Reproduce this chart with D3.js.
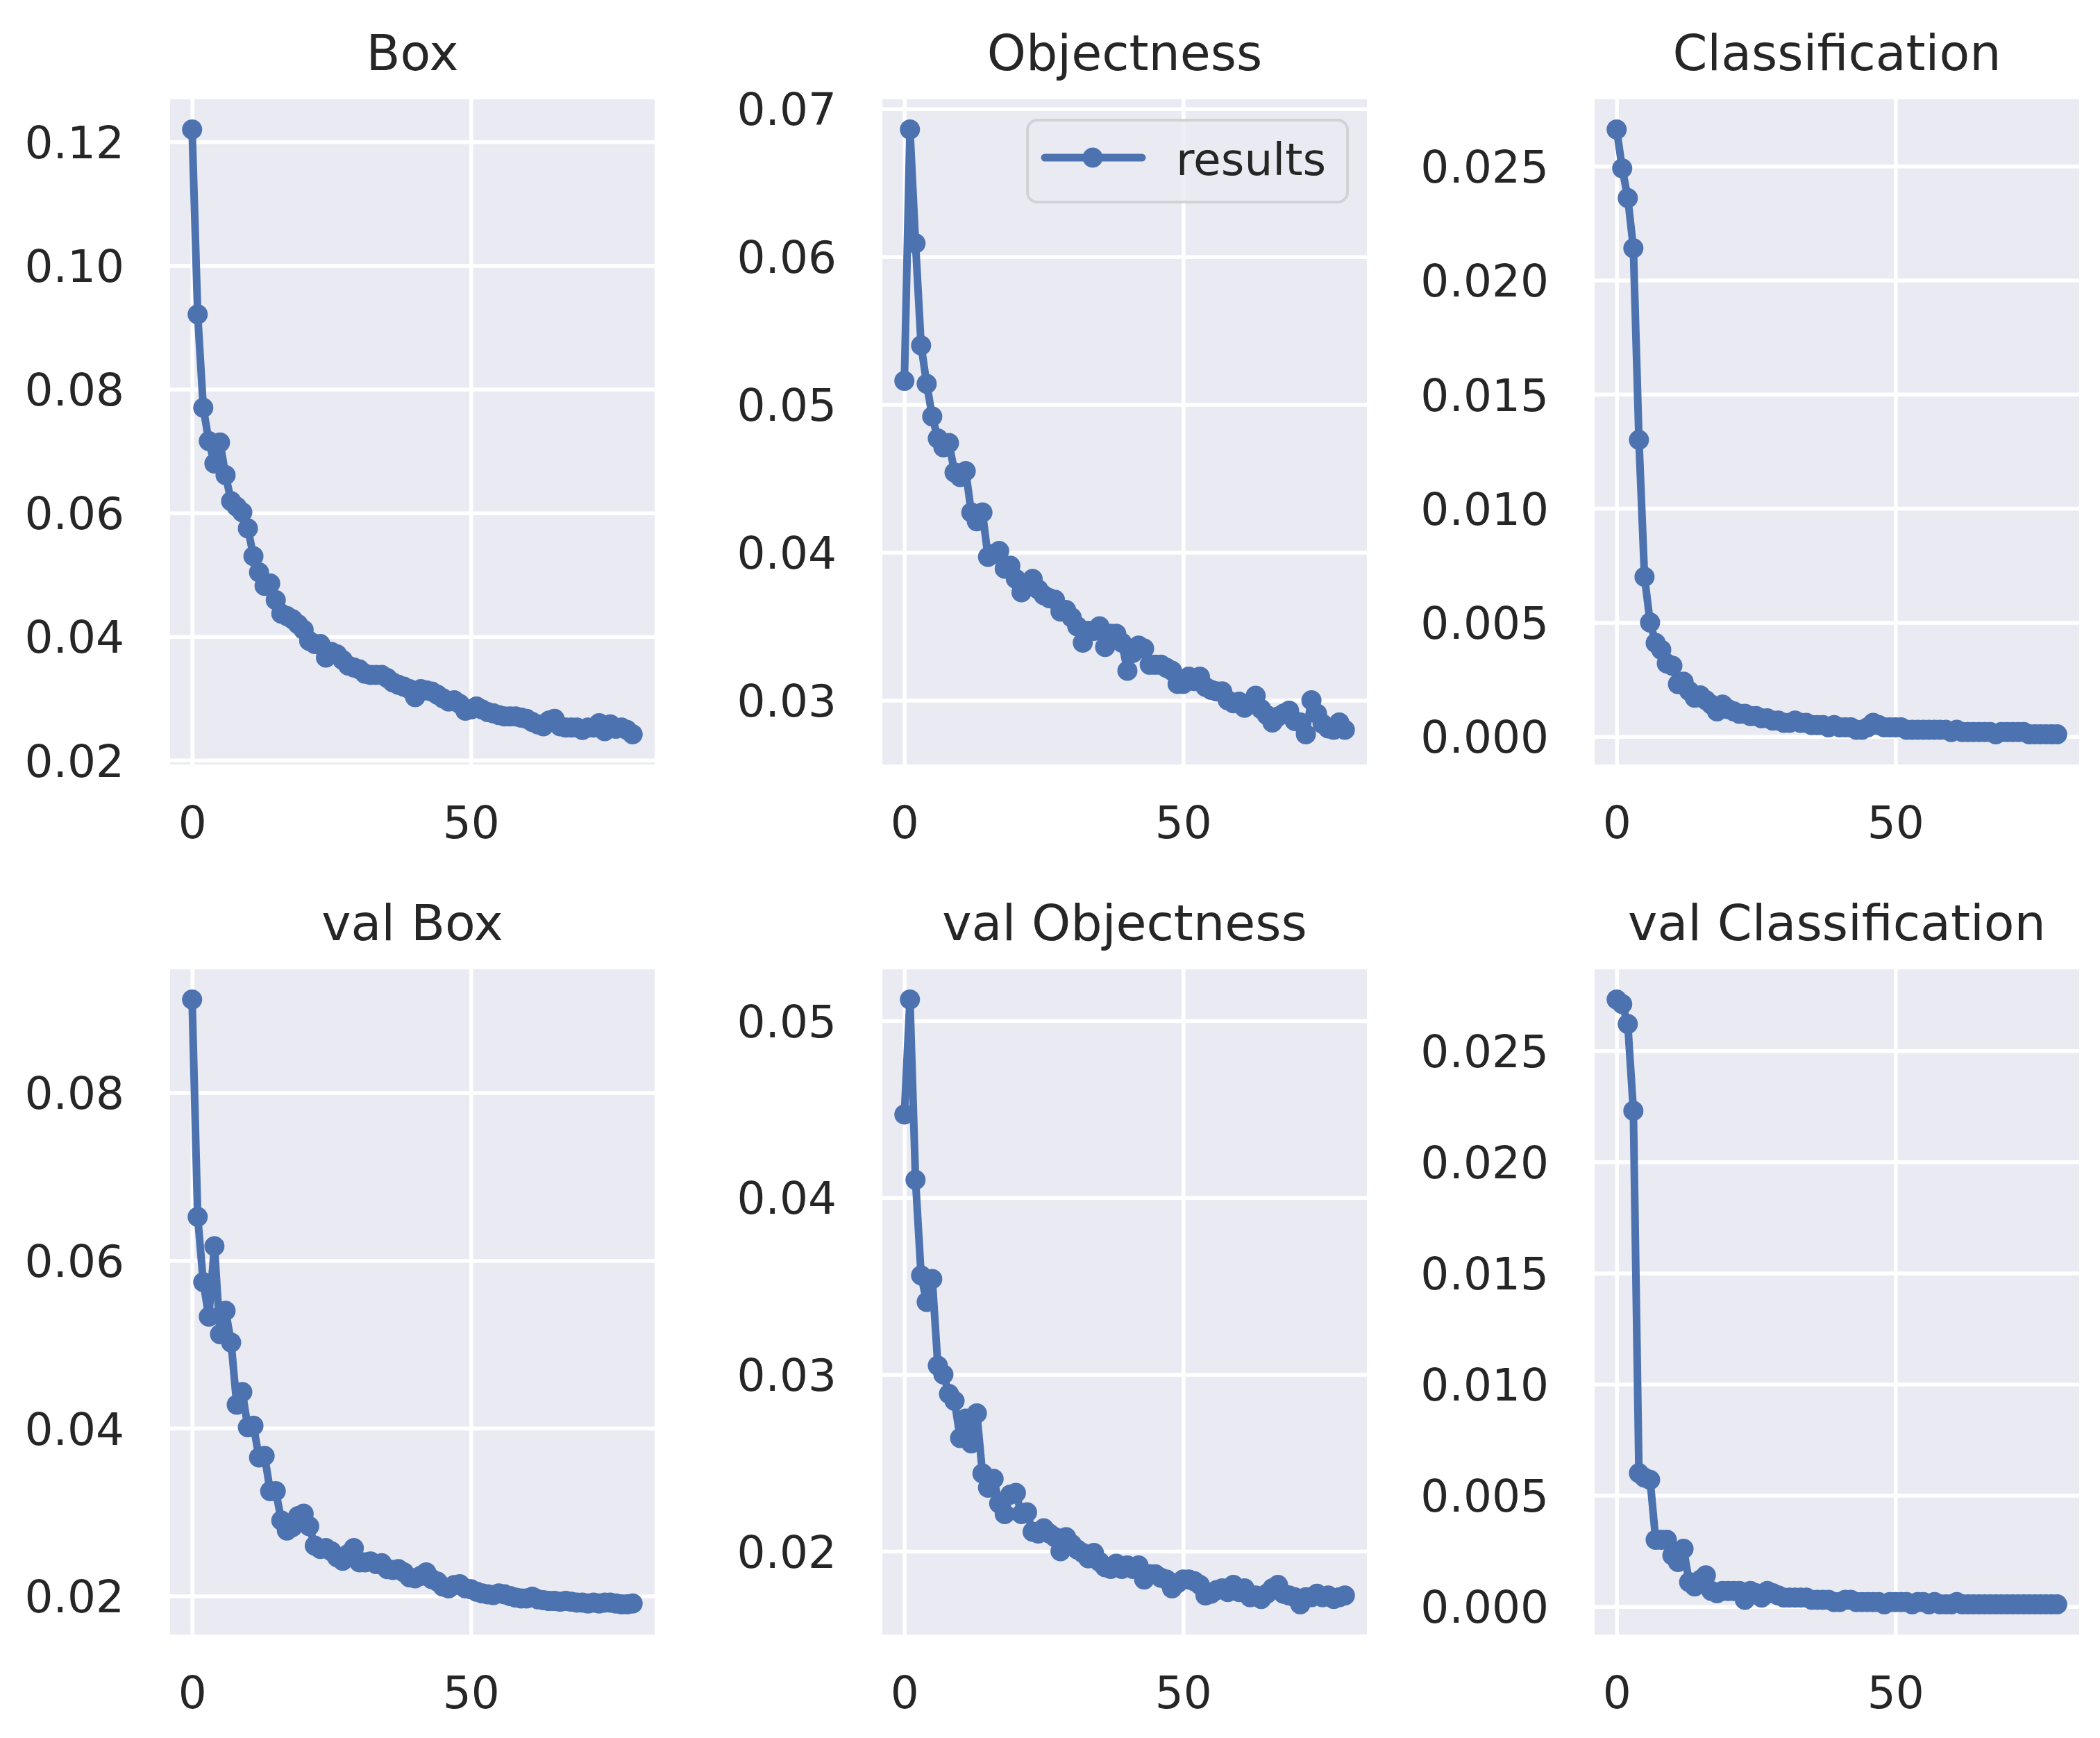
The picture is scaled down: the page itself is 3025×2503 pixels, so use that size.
<!DOCTYPE html>
<html lang="en">
  <head>
    <meta charset="UTF-8" />
    <title>results</title>
    <script src="https://cdn.jsdelivr.net/npm/d3@7/dist/d3.min.js"></script>
    <style>
      body { margin: 0; background: #fff; }
      text { font-family: "DejaVu Sans", sans-serif; fill: #262626; }
    </style>
  </head>
  <body>
    <svg width="3025" height="2503"></svg>
    <script>
      // loss values per epoch
      var boxLoss = [0.1220,0.0921,0.0770,0.0716,0.0680,0.0714,0.0661,0.0619,0.0610,0.0601,
        0.0575,0.0530,0.0504,0.0482,0.0486,0.0459,0.0437,0.0433,0.0428,0.0420,
        0.0411,0.0393,0.0388,0.0388,0.0366,0.0375,0.0371,0.0362,0.0353,0.0350,
        0.0347,0.0340,0.0338,0.0338,0.0338,0.0333,0.0326,0.0322,0.0319,0.0315,
        0.0302,0.0315,0.0313,0.0311,0.0306,0.0300,0.0295,0.0297,0.0291,0.0280,
        0.0282,0.0287,0.0282,0.0278,0.0276,0.0273,0.0271,0.0271,0.0271,0.0269,
        0.0267,0.0262,0.0258,0.0255,0.0264,0.0267,0.0255,0.0253,0.0253,0.0253,
        0.0249,0.0253,0.0253,0.0260,0.0247,0.0258,0.0251,0.0253,0.0249,0.0242];
      var objLoss = [0.0516,0.0686,0.0609,0.0540,0.0514,0.0492,0.0477,0.0471,0.0474,0.0454,
        0.0451,0.0455,0.0427,0.0421,0.0427,0.0397,0.0399,0.0401,0.0389,0.0391,
        0.0382,0.0373,0.0378,0.0382,0.0375,0.0371,0.0369,0.0368,0.0360,0.0361,
        0.0356,0.0350,0.0339,0.0347,0.0347,0.0350,0.0336,0.0345,0.0345,0.0339,
        0.0320,0.0332,0.0337,0.0335,0.0324,0.0324,0.0324,0.0322,0.0320,0.0311,
        0.0311,0.0316,0.0313,0.0316,0.0309,0.0307,0.0306,0.0306,0.0300,0.0298,
        0.0299,0.0295,0.0298,0.0303,0.0294,0.0290,0.0285,0.0289,0.0291,0.0293,
        0.0286,0.0285,0.0277,0.0300,0.0291,0.0284,0.0281,0.0280,0.0285,0.0280];
      var clsLoss = [0.0266,0.0249,0.0236,0.0214,0.0130,0.0070,0.0050,0.0041,0.0038,0.0032,
        0.0031,0.0023,0.0024,0.0020,0.0017,0.0018,0.0016,0.0014,0.0011,0.0014,
        0.0012,0.0011,0.0010,0.0010,0.0009,0.0009,0.0008,0.0008,0.0007,0.0007,
        0.0006,0.0006,0.0007,0.0006,0.0006,0.0005,0.0005,0.0005,0.0004,0.0005,
        0.0004,0.0004,0.0004,0.0003,0.0003,0.0004,0.0006,0.0005,0.0004,0.0004,
        0.0004,0.0004,0.0003,0.0003,0.0003,0.0003,0.0003,0.0003,0.0003,0.0003,
        0.0002,0.0003,0.0002,0.0002,0.0002,0.0002,0.0002,0.0002,0.0001,0.0002,
        0.0002,0.0002,0.0002,0.0002,0.0001,0.0001,0.0001,0.0001,0.0001,0.0001];
      var valBoxLoss = [0.0911,0.0652,0.0574,0.0533,0.0617,0.0512,0.0540,0.0502,0.0428,0.0443,
        0.0401,0.0403,0.0365,0.0367,0.0325,0.0325,0.0290,0.0278,0.0282,0.0295,
        0.0298,0.0283,0.0260,0.0256,0.0257,0.0253,0.0246,0.0242,0.0250,0.0257,
        0.0240,0.0240,0.0241,0.0238,0.0239,0.0232,0.0231,0.0232,0.0228,0.0222,
        0.0221,0.0224,0.0228,0.0220,0.0217,0.0211,0.0209,0.0213,0.0214,0.0209,
        0.0208,0.0205,0.0203,0.0202,0.0201,0.0203,0.0202,0.0200,0.0198,0.0197,
        0.0197,0.0199,0.0196,0.0195,0.0194,0.0194,0.0193,0.0194,0.0193,0.0192,
        0.0192,0.0191,0.0192,0.0191,0.0192,0.0192,0.0191,0.0190,0.0190,0.0191];
      var valObjLoss = [0.0447,0.0512,0.0410,0.0356,0.0341,0.0354,0.0305,0.0300,0.0289,0.0285,
        0.0264,0.0275,0.0261,0.0278,0.0244,0.0236,0.0241,0.0227,0.0221,0.0232,
        0.0233,0.0221,0.0222,0.0211,0.0210,0.0213,0.0210,0.0208,0.0200,0.0208,
        0.0204,0.0201,0.0199,0.0196,0.0199,0.0194,0.0191,0.0190,0.0193,0.0190,
        0.0192,0.0190,0.0192,0.0184,0.0187,0.0187,0.0185,0.0184,0.0179,0.0182,
        0.0184,0.0184,0.0183,0.0181,0.0175,0.0176,0.0178,0.0179,0.0177,0.0181,
        0.0177,0.0179,0.0174,0.0175,0.0173,0.0176,0.0179,0.0181,0.0176,0.0175,
        0.0174,0.0170,0.0174,0.0174,0.0176,0.0174,0.0175,0.0173,0.0174,0.0175];
      var valClsLoss = [0.0273,0.0271,0.0262,0.0223,0.0060,0.0058,0.0057,0.0030,0.0030,0.0030,
        0.0023,0.0020,0.0026,0.0011,0.0009,0.0012,0.0014,0.0007,0.0006,0.0007,
        0.0007,0.0007,0.0007,0.0003,0.0007,0.0006,0.0004,0.0007,0.0006,0.0005,
        0.0004,0.0004,0.0004,0.0004,0.0004,0.0003,0.0003,0.0003,0.0003,0.0002,
        0.0002,0.0003,0.0003,0.0002,0.0002,0.0002,0.0002,0.0002,0.0001,0.0002,
        0.0002,0.0002,0.0002,0.0001,0.0002,0.0002,0.0001,0.0002,0.0001,0.0001,
        0.0001,0.0002,0.0001,0.0001,0.0001,0.0001,0.0001,0.0001,0.0001,0.0001,
        0.0001,0.0001,0.0001,0.0001,0.0001,0.0001,0.0001,0.0001,0.0001,0.0001];

      var titles = ["Box", "Objectness", "Classification", "val Box", "val Objectness", "val Classification"];
      var xTicks = [0, 50];
      var boxTicks = [0.02, 0.04, 0.06, 0.08, 0.10, 0.12];
      var objTicks = [0.03, 0.04, 0.05, 0.06, 0.07];
      var clsTicks = [0.000, 0.005, 0.010, 0.015, 0.020, 0.025];
      var valBoxTicks = [0.02, 0.04, 0.06, 0.08];
      var valObjTicks = [0.02, 0.03, 0.04, 0.05];
      var valClsTicks = [0.000, 0.005, 0.010, 0.015, 0.020, 0.025];
      var legendLabel = "results";

      var panels = [
        { title: titles[0], values: boxLoss, ticks: boxTicks, fmt: ".2f" },
        { title: titles[1], values: objLoss, ticks: objTicks, fmt: ".2f", legend: true },
        { title: titles[2], values: clsLoss, ticks: clsTicks, fmt: ".3f" },
        { title: titles[3], values: valBoxLoss, ticks: valBoxTicks, fmt: ".2f" },
        { title: titles[4], values: valObjLoss, ticks: valObjTicks, fmt: ".2f" },
        { title: titles[5], values: valClsLoss, ticks: valClsTicks, fmt: ".3f" }
      ];

      var blue = "#4c72b0";
      var colX = [245, 1271, 2297], rowY = [143, 1396];
      var w = 698, h = 958;
      var tickSize = 64.5, titleSize = 71.5;

      // matplotlib style 5% margins
      function padded(ext) {
        var p = (ext[1] - ext[0]) * 0.05;
        return [ext[0] - p, ext[1] + p];
      }

      var svg = d3.select("svg");
      svg.append("rect").attr("width", 3025).attr("height", 2503).attr("fill", "#fff");

      panels.forEach(function (p, k) {
        var g = svg.append("g")
          .attr("transform", `translate(${colX[k % 3]},${rowY[Math.floor(k / 3)]})`);

        var x = d3.scaleLinear().domain(padded([0, p.values.length - 1])).range([0, w]);
        var y = d3.scaleLinear().domain(padded(d3.extent(p.values))).range([h, 0]);

        g.append("rect").attr("width", w).attr("height", h).attr("fill", "#eaeaf2");

        // grid + tick labels via d3 axes
        var yAxis = d3.axisLeft(y).tickValues(p.ticks).tickFormat(d3.format(p.fmt))
          .tickSize(-w).tickPadding(67);
        var ya = g.append("g").call(yAxis);
        var xAxis = d3.axisBottom(x).tickValues(xTicks).tickFormat(d3.format("d"))
          .tickSize(-h).tickPadding(0);
        var xa = g.append("g").attr("transform", `translate(0,${h})`).call(xAxis);

        [ya, xa].forEach(function (a) {
          a.select(".domain").remove();
          a.selectAll(".tick line").attr("stroke", "#fff").attr("stroke-width", 5.5);
          a.selectAll(".tick text").attr("font-size", tickSize).attr("fill", "#262626")
            .style("font-family", "'DejaVu Sans', sans-serif");
        });
        ya.selectAll(".tick text").attr("x", -66).attr("dy", "0.36em");
        xa.selectAll(".tick text").attr("y", 106).attr("dy", 0);

        // title
        g.append("text").attr("x", w / 2).attr("y", -42)
          .attr("text-anchor", "middle").attr("font-size", titleSize).text(p.title);

        // line + markers
        var line = d3.line().x(function (d, i) { return x(i); }).y(function (d) { return y(d); });
        g.append("path").datum(p.values).attr("d", line)
          .attr("fill", "none").attr("stroke", blue).attr("stroke-width", 11)
          .attr("stroke-linejoin", "round").attr("stroke-linecap", "round");
        g.selectAll("circle.pt").data(p.values).enter().append("circle")
          .attr("class", "pt")
          .attr("cx", function (d, i) { return x(i); })
          .attr("cy", function (d) { return y(d); })
          .attr("r", 14.5).attr("fill", blue);

        if (p.legend) {
          var lg = g.append("g").attr("transform", `translate(${1480 - colX[1]},${173 - rowY[0]})`);
          lg.append("rect").attr("width", 461).attr("height", 118).attr("rx", 14)
            .attr("fill", "#eaeaf2").attr("fill-opacity", 0.8)
            .attr("stroke", "#cccccc").attr("stroke-opacity", 0.8).attr("stroke-width", 4);
          lg.append("line").attr("x1", 25).attr("x2", 165).attr("y1", 54).attr("y2", 54)
            .attr("stroke", blue).attr("stroke-width", 11).attr("stroke-linecap", "round");
          lg.append("circle").attr("cx", 94).attr("cy", 54).attr("r", 14.5).attr("fill", blue);
          lg.append("text").attr("x", 214).attr("y", 54).attr("dy", "0.38em")
            .attr("font-size", tickSize).text(legendLabel);
        }
      });
    </script>
  </body>
</html>
